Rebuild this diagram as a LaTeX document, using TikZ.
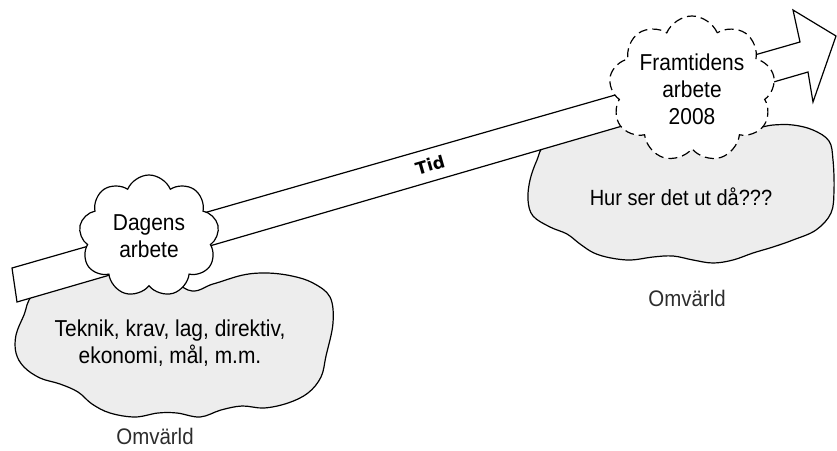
\documentclass[tikz,border=0pt]{standalone}
\usepackage{fontspec}
\setmainfont{Liberation Sans}[FakeStretch=0.91]
\newfontfamily\tidfont{DejaVu Sans}[Kerning=Off]
\usetikzlibrary{shapes.symbols}
\definecolor{greyfill}{RGB}{237,237,237}
\definecolor{omvcol}{RGB}{45,45,45}
\begin{document}
\begin{tikzpicture}[x=1pt,y=-1pt, line width=1.2pt, line join=miter,
  greycloud/.style={draw=black, fill=greyfill, line width=1.2pt},
  whitecloud/.style={cloud, cloud puffs=9, cloud puff arc=135, cloud ignores aspect,
    draw, fill=white, inner sep=0pt, align=center, line width=1.2pt,
    font=\fontsize{23}{27}\selectfont},
  lbl/.style={font=\fontsize{23}{27}\selectfont, align=center},
  omv/.style={font=\fontsize{22.5}{25}\selectfont, text=omvcol, anchor=base, inner sep=0pt},
  arrowbody/.style={draw=black, fill=white, line width=1.2pt, line join=miter}]
\useasboundingbox (0,0) rectangle (837,450);

% grey surroundings (left)
\draw[greycloud] plot[smooth cycle, tension=0.6] coordinates {
  (33,295) (24,315) (16,335) (16,353) (24,367) (40,378) (60,384) (78,392)
  (92,404) (110,413) (135,417) (158,413) (177,413) (200,417) (221,410)
  (242,406) (264,408) (288,403) (308,393) (321,377) (326,356) (333,323)
  (330,297) (313,283) (292,276) (267,273) (243,275) (213,284) (188,290)
  (150,262) (100,265) (65,278)};
% grey surroundings (right)
\draw[greycloud] plot[smooth cycle, tension=0.6] coordinates {
  (546,144) (537,160) (530,180) (528,200) (533,216) (550,227) (567,234)
  (580,244) (594,253) (611,258) (631,260) (653,257) (673,256) (693,260)
  (713,263) (733,260) (753,253) (773,247) (793,240) (816,230) (831,213)
  (834,190) (833,160) (829,141) (813,130) (793,125) (773,125) (752,128)
  (700,128) (640,118) (580,128)};

% time arrow
\draw[arrowbody] (12,268) -- (800,42) -- (793,10) -- (836,36) -- (813,102)
  -- (808,72) -- (17,302) -- cycle;
\node[rotate=16, font=\tidfont\bfseries\fontsize{17}{17}\selectfont, inner sep=0pt] (tid) at (430,165) {Tid};

% clouds
\node[whitecloud, minimum width=140pt, minimum height=122pt] (dagens) at (149,236)
  {Dagens\\arbete};
\node[whitecloud, dash pattern=on 9pt off 5pt, minimum width=166pt, minimum height=146pt]
  (framtid) at (692,89) {Framtidens\\arbete\\2008};

% texts
\node[lbl] (teknik) at (170,343) {Teknik, krav, lag, direktiv,\\ekonomi, mål, m.m.};
\node[lbl, font=\fontsize{22}{24}\selectfont, anchor=base] (hur) at (681,205) {Hur ser det ut då???};
\node[omv] (omvL) at (155,444) {Omvärld};
\node[omv] (omvR) at (687,306) {Omvärld};
\end{tikzpicture}
\end{document}
